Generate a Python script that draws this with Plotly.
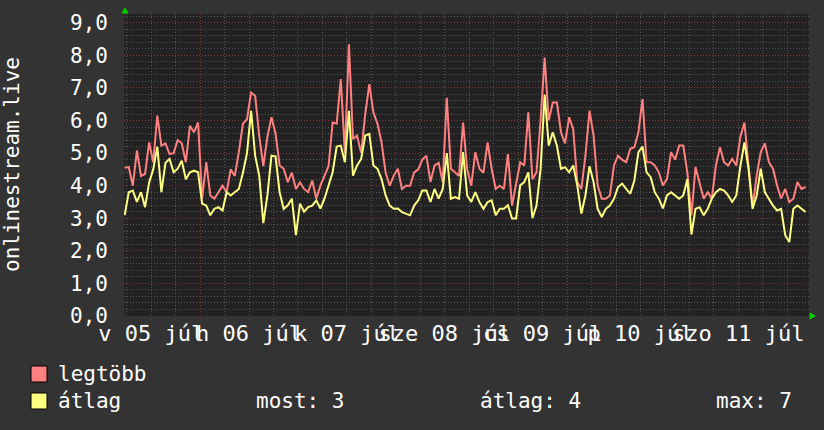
import plotly.graph_objects as go
import pandas as pd

# ---------------- data ----------------
start_time = "2020-07-05 05:30"
x_range = ["2020-07-05 05:20", "2020-07-12 05:20"]

legtobb = [4.55, 4.57, 4.0, 5.08, 4.3, 4.36, 5.33, 4.72, 6.15, 5.23, 5.3, 4.97, 5.0, 5.4, 5.3, 4.72,
           5.84, 5.64, 5.94, 3.6, 4.72, 3.7, 3.6, 3.8, 4.0, 3.8, 4.5, 4.3, 5.03, 5.9, 6.04, 6.86,
           6.76, 5.54, 4.6, 5.5, 6.1, 5.6, 4.62, 4.52, 4.11, 4.4,
           3.9, 4.1, 3.9, 3.8, 4.16, 3.6, 4.0, 4.3, 4.6, 5.94, 5.9, 7.27, 5.0, 8.34, 5.43, 5.54,
           5.0, 6.2, 7.12, 6.25, 5.9, 5.33, 4.4, 4.0, 4.31, 4.52, 3.9, 4.0, 4.0, 4.41, 4.5, 4.8,
           4.92, 4.11, 4.62, 4.7, 4.11, 6.7, 4.52, 4.41, 4.3, 5.94,
           4.5, 4.0, 5.03, 4.52, 4.4, 5.33, 4.52, 3.9, 4.0, 3.9, 4.97, 3.39, 4.01, 4.72, 4.62, 6.25,
           4.2, 4.41, 6.0, 7.93, 6.0, 6.55, 6.55, 5.64, 5.3, 6.1, 5.74, 4.11, 3.9, 4.92, 6.3, 5.54,
           4.01, 3.6, 3.6, 3.7, 4.62, 4.92, 4.8, 4.72, 5.13, 5.18,
           5.64, 6.66, 4.72, 4.72, 4.62, 4.41, 4.01, 4.2, 5.03, 4.8, 5.23, 5.23, 4.4, 3.09, 4.57, 4.11,
           3.6, 3.8, 3.6, 4.62, 5.18, 4.72, 4.62, 4.82, 4.62, 5.5, 5.94, 4.62, 3.35, 4.31, 5.03, 5.3,
           4.72, 4.52, 4.01, 3.6, 3.9, 3.5, 3.6, 4.11, 3.9, 3.96]

atlag = [3.1, 3.8, 3.85, 3.5, 3.8, 3.34, 4.1, 4.5, 5.2, 3.8, 4.7, 4.82, 4.41, 4.52, 4.77, 4.2,
         4.41, 4.46, 4.41, 3.45, 3.39, 3.09, 3.29, 3.34, 3.24, 3.8, 3.7, 3.8, 3.9, 4.4, 5.0, 6.3,
         4.92, 4.31, 2.85, 3.7, 4.92, 4.9, 3.8, 3.29, 3.4, 3.6,
         2.48, 3.45, 3.2, 3.34, 3.39, 3.55, 3.3, 3.6, 4.0, 4.41, 5.2, 5.23, 4.72, 6.3, 4.31, 4.62,
         4.82, 5.54, 5.59, 4.62, 4.52, 4.2, 3.7, 3.39, 3.29, 3.3, 3.19, 3.14, 3.09, 3.39, 3.55, 3.85,
         3.85, 3.5, 3.9, 3.6, 3.9, 5.0, 3.6, 3.65, 3.6, 5.03,
         3.7, 3.5, 3.8, 3.5, 3.29, 3.5, 3.55, 3.09, 3.29, 3.29, 3.4, 2.99, 2.99, 4.01, 4.11, 4.41,
         3.0, 3.39, 4.5, 6.8, 5.23, 5.64, 5.23, 4.52, 4.57, 4.41, 4.62, 4.01, 3.14, 3.7, 4.6, 4.11,
         3.29, 3.04, 3.29, 3.39, 3.6, 3.96, 4.06, 3.9, 3.75, 4.16,
         5.03, 5.2, 4.41, 4.26, 3.8, 3.6, 3.3, 3.7, 3.8, 3.7, 3.6, 3.7, 4.2, 2.5, 3.29, 3.34,
         3.09, 3.29, 3.6, 3.8, 3.9, 3.85, 3.7, 3.5, 3.7, 4.6, 5.33, 4.52, 3.29, 3.7, 4.52, 3.8,
         3.6, 3.39, 3.24, 3.29, 2.48, 2.27, 3.29, 3.39, 3.29, 3.19]

day_label_times = ["2020-07-05 12:00", "2020-07-06 12:00", "2020-07-07 12:00", "2020-07-08 12:00",
                   "2020-07-09 12:00", "2020-07-10 12:00", "2020-07-11 12:00"]
day_labels = ["v 05 júl", "h 06 júl", "k 07 júl", "sze 08 júl", "cs 09 júl", "p 10 júl", "szo 11 júl"]

series_names = ["legtöbb", "átlag"]
series_colors = ["#ff8080", "#ffff80"]

times = pd.date_range(start_time, periods=len(legtobb), freq="h")

# ---------------- layout geometry (pixels) ----------------
W, H = 824, 430
L, R, T, B = 124, 15, 14, 114
PW, PH = W - L - R, H - T - B


def px(xp):
    return (xp - L) / PW


def py(yp):
    return (H - B - yp) / PH


FONT = "DejaVu Sans Mono"
MAJOR_GRID = "#7d3636"
MINOR_GRID = "#575757"

fig = go.Figure()
fig.add_trace(go.Scatter(x=times, y=legtobb, mode="lines", name=series_names[0],
                         line=dict(color=series_colors[0], width=2), hoverinfo="skip"))
fig.add_trace(go.Scatter(x=times, y=atlag, mode="lines", name=series_names[1],
                         line=dict(color=series_colors[1], width=2), hoverinfo="skip"))
# carrier trace for the label axis
fig.add_trace(go.Scatter(x=day_label_times, y=[0] * len(day_label_times), xaxis="x2",
                         mode="markers", marker=dict(opacity=0), hoverinfo="skip", showlegend=False))

fig.update_layout(
    width=W, height=H,
    margin=dict(l=L, r=R, t=T, b=B, pad=0),
    paper_bgcolor="#333333",
    plot_bgcolor="#222222",
    separators=",.",
    showlegend=False,
    font=dict(family=FONT, color="#ffffff", size=21),
    xaxis=dict(
        type="date", range=x_range,
        tick0="2020-07-05 00:00", dtick=86400000,
        showgrid=True, gridcolor=MAJOR_GRID, griddash="1px,2px", gridwidth=1,
        showticklabels=False, ticks="", zeroline=False, showline=False,
        minor=dict(dtick=21600000, tick0="2020-07-05 00:00", showgrid=True,
                   gridcolor=MINOR_GRID, griddash="1px,2px", gridwidth=1, ticks=""),
    ),
    xaxis2=dict(
        type="date", range=x_range, overlaying="x", side="bottom", anchor="y",
        tickmode="array", tickvals=day_label_times, ticktext=day_labels,
        tickangle=0, showgrid=False, ticks="", zeroline=False, showline=False,
        tickfont=dict(family=FONT, size=22, color="#ffffff"), ticklabelstandoff=2,
    ),
    yaxis=dict(
        range=[0, 9.27], tick0=0, dtick=1, tickformat=".1f",
        showgrid=True, gridcolor=MAJOR_GRID, griddash="1px,2px", gridwidth=1,
        zeroline=False, showline=False, ticks="",
        tickfont=dict(family=FONT, size=21, color="#ffffff"), ticklabelstandoff=15,
        minor=dict(dtick=0.2, tick0=0, showgrid=True, gridcolor=MINOR_GRID,
                   griddash="1px,2px", gridwidth=1, ticks=""),
    ),
)

# y axis title
annotations = [dict(text="onlinestream.live", textangle=-90, xref="paper", yref="paper",
                    x=px(12), y=py(165), xanchor="center", yanchor="middle", showarrow=False,
                    font=dict(family=FONT, size=21, color="#ffffff"))]

# legend
last_val = atlag[-1]
avg_val = sum(atlag) / len(atlag)
max_val = max(atlag)
rows = [(374, series_names[0], series_colors[0]), (401, series_names[1], series_colors[1])]
shapes = []
for ycen, name, col in rows:
    shapes.append(dict(type="rect", xref="paper", yref="paper",
                       x0=px(31), x1=px(47), y0=py(ycen - 8), y1=py(ycen + 8),
                       fillcolor=col, line=dict(color="#000000", width=1)))
    annotations.append(dict(text=name, xref="paper", yref="paper", x=px(56), y=py(ycen),
                            xanchor="left", yanchor="middle", showarrow=False,
                            font=dict(family=FONT, size=21, color="#ffffff")))
stats = [(254, "most: %.0f" % last_val), (478, "átlag: %.0f" % avg_val), (714, "max: %.0f" % max_val)]
for xl, txt in stats:
    annotations.append(dict(text=txt, xref="paper", yref="paper", x=px(xl), y=py(401),
                            xanchor="left", yanchor="middle", showarrow=False,
                            font=dict(family=FONT, size=21, color="#ffffff")))

# green axis arrows
shapes.append(dict(type="path", xref="paper", yref="paper",
                   path="M %f,%f L %f,%f L %f,%f Z" % (px(122), py(13), px(128), py(13), px(125), py(8)),
                   fillcolor="#00cc00", line=dict(color="#00cc00", width=1)))
shapes.append(dict(type="path", xref="paper", yref="paper",
                   path="M %f,%f L %f,%f L %f,%f Z" % (px(810), py(313), px(810), py(319), px(815), py(316)),
                   fillcolor="#00cc00", line=dict(color="#00cc00", width=1)))

fig.update_layout(annotations=annotations, shapes=shapes)

fig.write_html("out.html")
